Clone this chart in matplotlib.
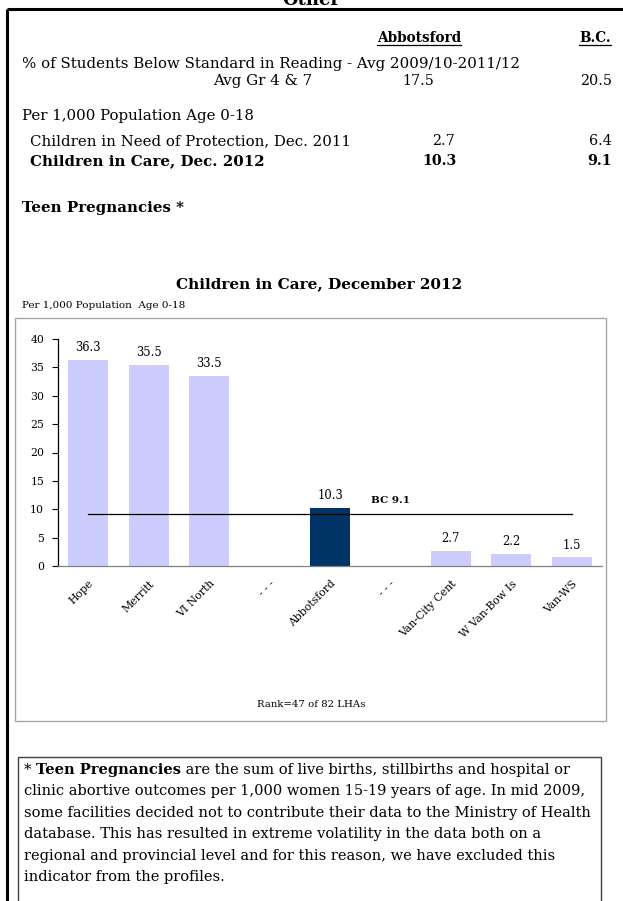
import matplotlib
matplotlib.use('Agg')
import matplotlib.pyplot as plt
from matplotlib.patches import Rectangle

W, H = 623, 901

# bar chart: Children in Care, December 2012 (per 1,000 population age 0-18)
regions = ['Hope', 'Merritt', 'VI North', '- - -', 'Abbotsford', '- - -',
           'Van-City Cent', 'W Van-Bow Is', 'Van-WS']
rates = [36.3, 35.5, 33.5, None, 10.3, None, 2.7, 2.2, 1.5]
highlight = 'Abbotsford'
bc_rate = 9.1
y_ticks = [0, 5, 10, 15, 20, 25, 30, 35, 40]

# summary table at the top of the page
table_rows = [
    ('% of Students Below Standard in Reading - Avg 2009/10-2011/12', None, None, False),
    ('Avg Gr 4 & 7', '17.5', '20.5', False),
    ('Per 1,000 Population Age 0-18', None, None, False),
    ('Children in Need of Protection, Dec. 2011', '2.7', '6.4', False),
    ('Children in Care, Dec. 2012', '10.3', '9.1', True),
    ('Teen Pregnancies *', None, None, True),
]

footnote = [
    'clinic abortive outcomes per 1,000 women 15-19 years of age. In mid 2009,',
    'some facilities decided not to contribute their data to the Ministry of Health',
    'database. This has resulted in extreme volatility in the data both on a',
    'regional and provincial level and for this reason, we have excluded this',
    'indicator from the profiles.',
]

plt.rcParams['font.family'] = ['DejaVu Serif']

fig = plt.figure(figsize=(W / 100, H / 100), dpi=100)
page = fig.add_axes([0, 0, 1, 1])
page.set_xlim(0, W)
page.set_ylim(H, 0)
page.axis('off')

# page frame and section title (cut off at the top, as on the page)
page.plot([7, W], [9, 9], color='black', lw=2.2, solid_capstyle='butt')
page.plot([7, 7], [9, H], color='black', lw=2.2, solid_capstyle='butt')
page.text(311, 5, 'Other', ha='center', va='baseline', fontsize=13, fontweight='bold')

fig.canvas.draw()
renderer = fig.canvas.get_renderer()


def underline(t, y):
    bb = t.get_window_extent(renderer)
    page.plot([bb.x0, bb.x1], [y, y], color='black', lw=0.9)


t1 = page.text(419, 42, 'Abbotsford', ha='center', va='baseline', fontsize=9.8, fontweight='bold')
t2 = page.text(611, 42, 'B.C.', ha='right', va='baseline', fontsize=9.8, fontweight='bold')
underline(t1, 45)
underline(t2, 45)

# table rows: label x, baseline y, label alignment, Abbotsford value x and alignment
row_pos = [(22, 68, 'left', None), (312, 85, 'right', (418, 'center')),
           (22, 120, 'left', None), (30, 145, 'left', (455, 'right')),
           (30, 165, 'left', (457, 'right')), (22, 212, 'left', None)]
for (label, ab, bc, bold), (lx, ly, al, vpos) in zip(table_rows, row_pos):
    w = 'bold' if bold else 'normal'
    page.text(lx, ly, label, ha=al, va='baseline', fontsize=10.8, fontweight=w)
    if ab is not None:
        page.text(vpos[0], ly, ab, ha=vpos[1], va='baseline', fontsize=10.3, fontweight=w)
        page.text(612, ly, bc, ha='right', va='baseline', fontsize=10.3, fontweight=w)

# chart title and box
page.text(319, 288, 'Children in Care, December 2012', ha='center', va='baseline',
          fontsize=11, fontweight='bold')
page.text(22, 308, 'Per 1,000 Population  Age 0-18', ha='left', va='baseline', fontsize=7.5)
page.add_patch(Rectangle((15, 318), 591, 403, fill=False, edgecolor='#a6a6a6', lw=1))
page.text(311, 707, 'Rank=47 of 82 LHAs', ha='center', va='baseline', fontsize=7.3)

# footnote box
page.add_patch(Rectangle((18, 757), 583, 160, fill=False, edgecolor='#404040', lw=1))
fx, fy = 24, 774
parts = [('* ', 'normal'), ('Teen Pregnancies', 'bold'),
         (' are the sum of live births, stillbirths and hospital or', 'normal')]
for s, w in parts:
    t = page.text(fx, fy, s, ha='left', va='baseline', fontsize=10.5, fontweight=w)
    bb = t.get_window_extent(renderer)
    fx = bb.x1
for i, line in enumerate(footnote):
    page.text(24, fy + 21.4 * (i + 1), line, ha='left', va='baseline', fontsize=10.5)

# bar chart
ax = fig.add_axes([58 / W, 1 - 566 / H, (602 - 58) / W, (566 - 339) / H])
ax.patch.set_alpha(0)
xs = list(range(len(regions)))
for x, name, v in zip(xs, regions, rates):
    if v is None:
        continue
    c = '#003366' if name == highlight else '#ccccff'
    ax.bar(x, v, width=0.66, color=c)
    ax.annotate(f'{v}', (x, v), xytext=(0, 4), textcoords='offset points',
                ha='center', va='bottom', fontsize=8.3)
ax.plot([xs[0], xs[-1]], [bc_rate, bc_rate], color='black', lw=0.9)
ax.annotate(f'BC {bc_rate}', (5, bc_rate), xytext=(0, 7), textcoords='offset points',
            ha='center', va='bottom', fontsize=7.5, fontweight='bold')

ax.set_xlim(-0.5, len(regions) - 0.5)
ax.set_ylim(0, 40)
ax.set_yticks(y_ticks)
ax.set_yticklabels([str(v) for v in y_ticks], fontsize=7.8)
ax.set_xticks(xs)
ax.set_xticklabels(regions, rotation=45, ha='right', rotation_mode='anchor', fontsize=7.8)
ax.tick_params(axis='x', length=0, pad=9)
ax.tick_params(axis='y', length=4, width=0.8, pad=6)
for s in ['top', 'right']:
    ax.spines[s].set_visible(False)
ax.spines['left'].set_color('black')
ax.spines['left'].set_linewidth(0.9)
ax.spines['bottom'].set_color('#808080')
ax.spines['bottom'].set_linewidth(0.9)

fig.savefig('out.png', dpi=100)
